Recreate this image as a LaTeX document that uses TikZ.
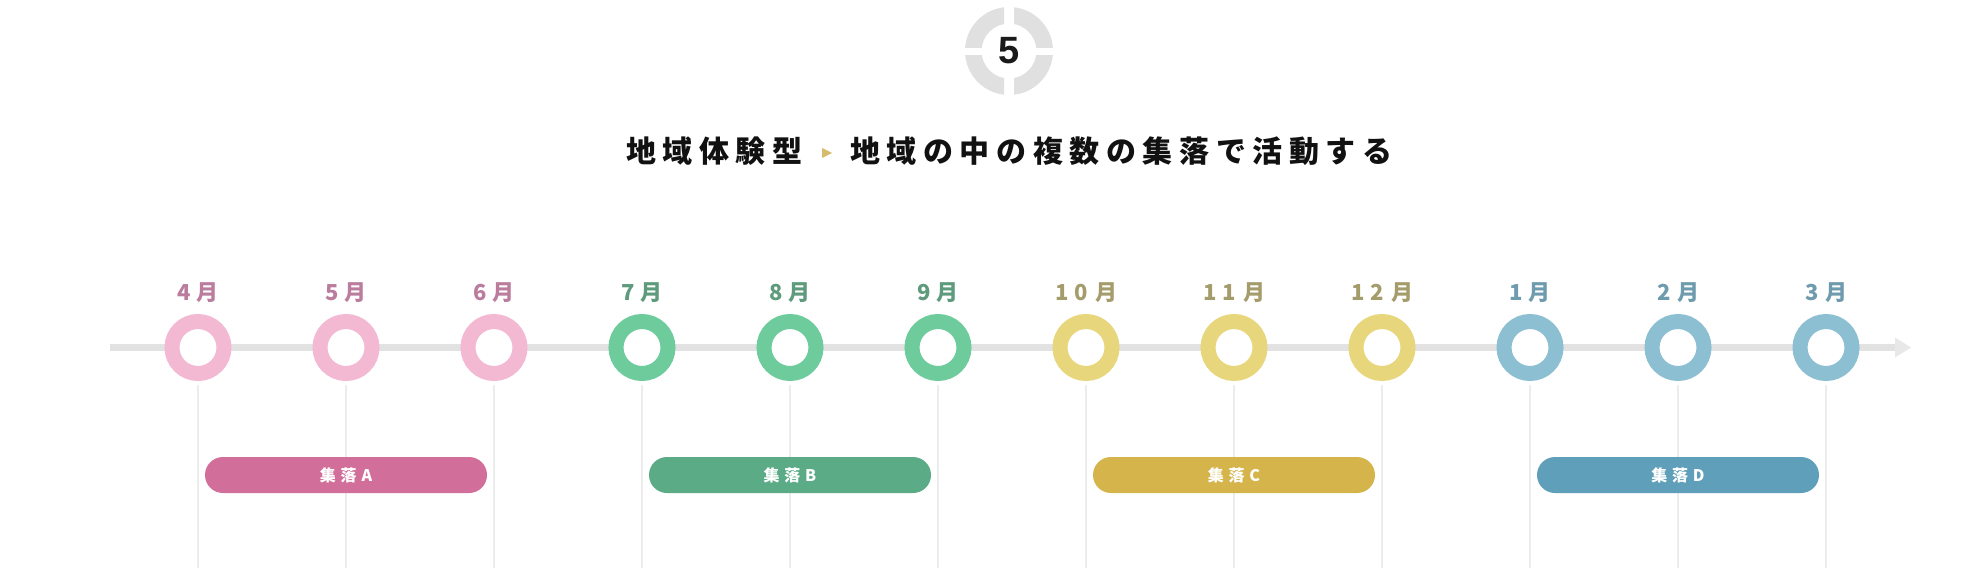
\documentclass[tikz,border=0pt]{standalone}
\usepackage{fontspec}
\setmainfont{Liberation Sans}
\newfontfamily\jpt{Noto Sans CJK JP}[LetterSpace=30]
\newfontfamily\jptt{Noto Sans CJK JP}[LetterSpace=22]
\usetikzlibrary{calc}
\definecolor{icongrey}{HTML}{E0E0E0}
\definecolor{numblack}{HTML}{1A1A1A}
\definecolor{titleblack}{HTML}{111111}
\definecolor{gold}{HTML}{D6BA6E}
\definecolor{axisgrey}{HTML}{E2E2E2}
\definecolor{arrowgrey}{HTML}{E8E8E8}
\definecolor{vlinegrey}{HTML}{ECECEC}
\definecolor{ringpk}{HTML}{F3B8D2}
\definecolor{labpk}{HTML}{BB7D9D}
\definecolor{pillpk}{HTML}{D16E99}
\definecolor{ringgr}{HTML}{6DCB9C}
\definecolor{labgr}{HTML}{5E9A7C}
\definecolor{pillgr}{HTML}{5AAB86}
\definecolor{ringye}{HTML}{E7D67B}
\definecolor{labye}{HTML}{A59C6C}
\definecolor{pillye}{HTML}{D5B54B}
\definecolor{ringbl}{HTML}{8CBFD1}
\definecolor{labbl}{HTML}{6E9BAD}
\definecolor{pillbl}{HTML}{5F9FB9}
\begin{document}
\begin{tikzpicture}[x=1pt,y=-1pt,
  ring/.style={circle, line width=15pt, minimum size=52pt, inner sep=0pt, fill=white},
  mlabel/.style={font=\jpt\bfseries\fontsize{22}{22}\selectfont, inner sep=0pt},
  pill/.style={rounded corners=18pt, minimum width=282pt, minimum height=36pt, inner sep=0pt, text=white, font=\jpt\bfseries\fontsize{16}{16}\selectfont},
  vline/.style={draw=vlinegrey, line width=2pt},
  ttl/.style={anchor=west, inner sep=0pt, text=titleblack, font=\jptt\bfseries\fontsize{30}{30}\selectfont}
]
\fill[white] (0,0) rectangle (1972,568);
\useasboundingbox (0,0) rectangle (1972,568);

% top icon
\coordinate (icon) at (1009,51);
\foreach \sx/\sy in {1/1,1/-1,-1/1,-1/-1}{
  \begin{scope}
    \clip ($(icon)+(\sx*5,\sy*4)$) rectangle ($(icon)+(\sx*50,\sy*50)$);
    \fill[icongrey, even odd rule] (icon) circle[radius=44pt] (icon) circle[radius=27.5pt];
  \end{scope}
}
\node[font=\bfseries\fontsize{38}{38}\selectfont, text=numblack, inner sep=0pt] (num) at (icon) {5};

% title
\node[ttl] (tleft) at (626,151) {地域体験型};
\fill[gold] (822,148) -- (832,153) -- (822,158) -- cycle;
\node[ttl] (tright) at (850,151) {地域の中の複数の集落で活動する};

% axis
\coordinate (axstart) at (110,347.5);
\coordinate (axend) at (1895,347.5);
\draw[axisgrey, line width=7pt] (axstart) -- (axend);
\fill[arrowgrey] (1895,337.5) -- (1911,347.5) -- (1895,357.5) -- cycle;

% months
\foreach \i/\lab/\g in {0/4月/pk,1/5月/pk,2/6月/pk,3/7月/gr,4/8月/gr,5/9月/gr,6/10月/ye,7/11月/ye,8/12月/ye,9/1月/bl,10/2月/bl,11/3月/bl}{
  \coordinate (b\i) at (198+148*\i, 568);
  \node[ring, draw=ring\g] (m\i) at (198+148*\i, 347.5) {};
  \draw[vline] ([yshift=-4pt]m\i.south) -- (b\i);
  \node[mlabel, text=lab\g] (l\i) at (198+148*\i, 293) {\lab};
}

% pills
\foreach \c/\t/\g in {1/集落A/pk,4/集落B/gr,7/集落C/ye,10/集落D/bl}{
  \coordinate (pc\c) at (198+148*\c, 475);
  \node[pill, fill=pill\g] (p\c) at (pc\c) {\t};
}
\end{tikzpicture}
\end{document}
